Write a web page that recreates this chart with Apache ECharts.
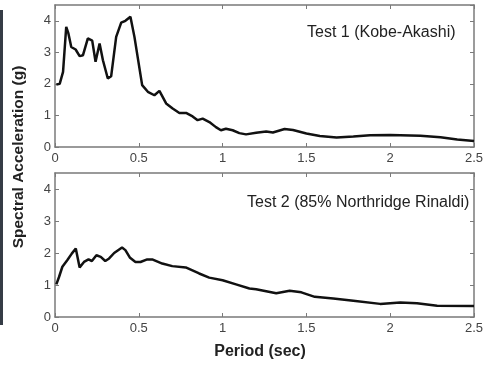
<!DOCTYPE html>
<html>
<head>
<meta charset="utf-8">
<script src="https://cdn.jsdelivr.net/npm/echarts@6/dist/echarts.min.js"></script>
<style>
  html, body { margin: 0; padding: 0; background: #fff; }
  #chart { width: 487px; height: 366px; }
</style>
</head>
<body>
<div id="chart"></div>
<script>
// Test 1 (Kobe-Akashi): period (sec), spectral acceleration (g)
const test1Period = [0.008, 0.028, 0.048, 0.067, 0.08, 0.097, 0.123, 0.147, 0.167, 0.196, 0.222, 0.242, 0.266, 0.286, 0.315, 0.335, 0.365, 0.395, 0.42, 0.45, 0.474, 0.52, 0.554, 0.593, 0.623, 0.663, 0.702, 0.742, 0.782, 0.821, 0.851, 0.881, 0.921, 0.96, 0.99, 1.02, 1.06, 1.10, 1.14, 1.20, 1.26, 1.30, 1.37, 1.42, 1.50, 1.58, 1.68, 1.78, 1.88, 2.0, 2.18, 2.30, 2.40, 2.50]
const test1Accel  = [1.98, 2.0, 2.38, 3.81, 3.6, 3.17, 3.09, 2.88, 2.91, 3.44, 3.37, 2.70, 3.28, 2.75, 2.17, 2.24, 3.49, 3.94, 4.0, 4.13, 3.49, 1.96, 1.75, 1.64, 1.78, 1.38, 1.22, 1.08, 1.08, 0.97, 0.85, 0.90, 0.79, 0.63, 0.53, 0.58, 0.53, 0.44, 0.40, 0.45, 0.49, 0.46, 0.57, 0.54, 0.43, 0.35, 0.30, 0.33, 0.37, 0.38, 0.36, 0.31, 0.24, 0.19]

// Test 2 (85% Northridge Rinaldi)
const test2Period = [0.008, 0.024, 0.044, 0.074, 0.10, 0.124, 0.147, 0.173, 0.20, 0.22, 0.247, 0.273, 0.30, 0.323, 0.353, 0.40, 0.42, 0.446, 0.48, 0.51, 0.55, 0.58, 0.64, 0.70, 0.78, 0.86, 0.92, 1.0, 1.08, 1.16, 1.20, 1.32, 1.40, 1.47, 1.55, 1.66, 1.78, 1.94, 2.06, 2.16, 2.28, 2.50]
const test2Accel  = [1.02, 1.25, 1.57, 1.78, 1.98, 2.14, 1.55, 1.72, 1.80, 1.75, 1.93, 1.88, 1.75, 1.83, 2.0, 2.17, 2.09, 1.86, 1.72, 1.72, 1.80, 1.80, 1.67, 1.59, 1.55, 1.36, 1.23, 1.15, 1.02, 0.89, 0.87, 0.74, 0.82, 0.77, 0.63, 0.58, 0.51, 0.41, 0.45, 0.43, 0.35, 0.34]

const xTicks = [0, 0.5, 1, 1.5, 2, 2.5]
const yTicks = [0, 1, 2, 3, 4]

const font = 'Liberation Sans, Arial, sans-serif'
const frameColor = '#7a7a7a'
const labelColor = '#444'

const grids = [
  { left: 55, right: 13, top: 5, height: 142 },
  { left: 55, right: 13, top: 173, height: 144 }
]

const makeX = (gridIndex, position, showLabel) => ({
  type: 'value', gridIndex, position,
  min: xTicks[0], max: xTicks[xTicks.length - 1], interval: 0.5,
  axisLine: { show: true, onZero: false, lineStyle: { color: frameColor, width: 1.5 } },
  axisTick: { show: true, inside: true, length: 4, lineStyle: { color: frameColor } },
  axisLabel: { show: showLabel, color: labelColor, fontSize: 13, fontFamily: font, margin: 5 },
  splitLine: { show: false }
})

const makeY = (gridIndex, position, showLabel) => ({
  type: 'value', gridIndex, position,
  min: yTicks[0], max: 4.5, interval: 1,
  axisLine: { show: true, onZero: false, lineStyle: { color: frameColor, width: 1.5 } },
  axisTick: { show: true, inside: true, length: 4, lineStyle: { color: frameColor } },
  axisLabel: { show: showLabel, showMaxLabel: false, color: labelColor, fontSize: 13, fontFamily: font, margin: 4 },
  splitLine: { show: false }
})

const zip = (xs, ys) => xs.map((x, i) => [x, ys[i]])

const chart = echarts.init(document.getElementById('chart'), null, { renderer: 'canvas' })

chart.setOption({
  animation: false,
  backgroundColor: '#fff',
  grid: grids,
  xAxis: [makeX(0, 'bottom', true), makeX(0, 'top', false), makeX(1, 'bottom', true), makeX(1, 'top', false)],
  yAxis: [makeY(0, 'left', true), makeY(0, 'right', false), makeY(1, 'left', true), makeY(1, 'right', false)],
  series: [
    {
      type: 'line', xAxisIndex: 0, yAxisIndex: 0,
      data: zip(test1Period, test1Accel),
      showSymbol: false, smooth: false,
      lineStyle: { color: '#111', width: 2.5 }
    },
    {
      type: 'line', xAxisIndex: 2, yAxisIndex: 2,
      data: zip(test2Period, test2Accel),
      showSymbol: false, smooth: false,
      lineStyle: { color: '#111', width: 2.5 }
    }
  ],
  graphic: [
    {
      type: 'rect', left: 0, top: 10,
      shape: { width: 3, height: 315 },
      style: { fill: '#353c46' }
    },
    {
      type: 'text', x: 307, y: 33,
      style: { text: 'Test 1 (Kobe-Akashi)', fill: '#222', font: '16px ' + font, verticalAlign: 'middle' }
    },
    {
      type: 'text', x: 247, y: 203,
      style: { text: 'Test 2 (85% Northridge Rinaldi)', fill: '#222', font: '16px ' + font, verticalAlign: 'middle' }
    },
    {
      type: 'text', x: 19, y: 157, rotation: Math.PI / 2,
      style: {
        text: 'Spectral Acceleration (g)', fill: '#222',
        font: 'bold 15.5px ' + font, align: 'center', verticalAlign: 'middle'
      }
    },
    {
      type: 'text', x: 260, y: 352,
      style: {
        text: 'Period (sec)', fill: '#222',
        font: 'bold 16px ' + font, align: 'center', verticalAlign: 'middle'
      }
    }
  ]
})
</script>
</body>
</html>
